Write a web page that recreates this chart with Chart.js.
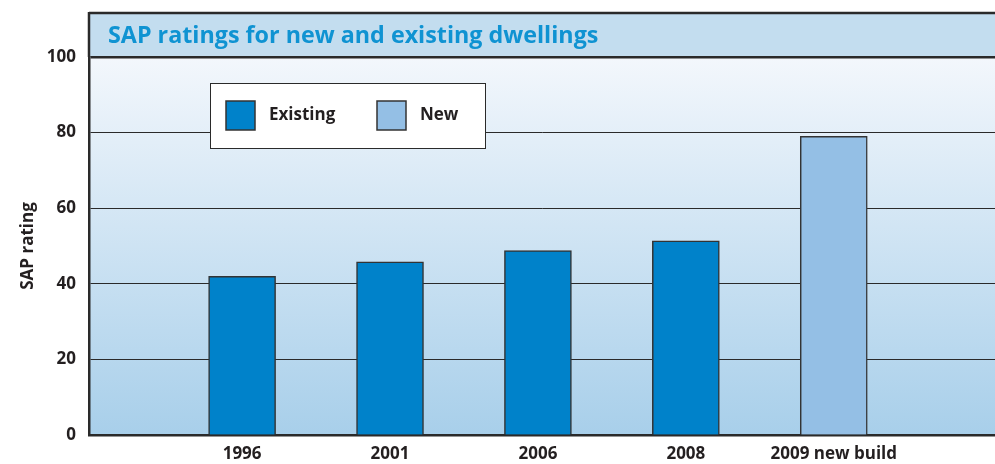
<!DOCTYPE html>
<html>
<head>
<meta charset="utf-8">
<script src="https://cdn.jsdelivr.net/npm/chart.js@4"></script>
<style>
  html, body { margin: 0; padding: 0; background: #fff; }
  #wrap { width: 995px; height: 464px; }
</style>
</head>
<body>
<div id="wrap"><canvas id="sapChart"></canvas></div>
<script>
// Chart data
const categories = ['1996', '2001', '2006', '2008', '2009 new build'];
const existingValues = [42, 45.8, 48.8, 51.4, null];
const newValues = [null, null, null, null, 79];
const yTicks = [0, 20, 40, 60, 80, 100];

const chartTitle = 'SAP ratings for new and existing dwellings';
const textColor = '#231f20';
const fontFamily = '"Open Sans", "DejaVu Sans", sans-serif';

// bars sit on a linear x axis: category i is at x = i + 1
function toPoints(values) {
  return values
    .map((v, i) => (v === null ? null : { x: i + 1, y: v }))
    .filter((p) => p !== null);
}

// background, title band and frame
const framePlugin = {
  id: 'frame',
  beforeDraw(chart) {
    const { ctx, chartArea } = chart;
    const { left, top, right, bottom } = chartArea;
    ctx.save();
    const grad = ctx.createLinearGradient(0, top, 0, bottom);
    grad.addColorStop(0, '#f3f7fc');
    grad.addColorStop(1, '#a8cfea');
    ctx.fillStyle = grad;
    ctx.fillRect(left, top, right - left, bottom - top);

    // title band
    ctx.fillStyle = '#c3ddef';
    ctx.fillRect(left, 13, right - left, top - 13);
    ctx.strokeStyle = '#2a2a2a';
    ctx.lineWidth = 2.5;
    ctx.beginPath();
    ctx.moveTo(left, 13);
    ctx.lineTo(right, 13);
    ctx.moveTo(left, 12);
    ctx.lineTo(left, top);
    ctx.stroke();

    ctx.fillStyle = '#0f93d2';
    ctx.font = 'bold 23.3px ' + fontFamily;
    ctx.textBaseline = 'middle';
    ctx.textAlign = 'left';
    ctx.fillText(chartTitle, left + 19, 36);
    ctx.restore();
  }
};

// boxed legend floating inside the plot
const boxLegendPlugin = {
  id: 'boxLegend',
  afterDatasetsDraw(chart) {
    const { ctx } = chart;
    ctx.save();
    ctx.fillStyle = '#ffffff';
    ctx.fillRect(210, 83, 275, 65);
    ctx.strokeStyle = '#2a2a2a';
    ctx.lineWidth = 1;
    ctx.strokeRect(210.5, 83.5, 275, 65);

    const xs = [226, 377];
    ctx.font = 'bold 17px ' + fontFamily;
    ctx.textBaseline = 'middle';
    chart.data.datasets.forEach((ds, i) => {
      ctx.fillStyle = ds.backgroundColor;
      ctx.fillRect(xs[i], 101, 29, 29);
      ctx.strokeStyle = '#333';
      ctx.lineWidth = 1.5;
      ctx.strokeRect(xs[i], 101, 29, 29);
      ctx.fillStyle = textColor;
      ctx.fillText(ds.label, xs[i] + 43, 115);
    });
    ctx.restore();
  }
};

const ctx = document.getElementById('sapChart').getContext('2d');
const sapChart = new Chart(ctx, {
  type: 'bar',
  data: {
    datasets: [{
      label: 'Existing',
      data: toPoints(existingValues),
      backgroundColor: '#0082ca',
      borderColor: '#333333',
      borderWidth: 1.5,
      grouped: false,
      barThickness: 67
    }, {
      label: 'New',
      data: toPoints(newValues),
      backgroundColor: '#94bfe5',
      borderColor: '#333333',
      borderWidth: 1.5,
      grouped: false,
      barThickness: 67
    }]
  },
  options: {
    responsive: true,
    maintainAspectRatio: false,
    animation: false,
    layout: { padding: { top: 57, left: 18, right: 0, bottom: 0 } },
    plugins: {
      legend: { display: false },
      tooltip: { enabled: false }
    },
    scales: {
      x: {
        type: 'linear',
        offset: false,
        min: -0.035,
        max: 6.09,
        afterBuildTicks: (axis) => {
          axis.ticks = categories.map((c, i) => ({ value: i + 1 }));
        },
        afterFit: (axis) => { axis.height = 29; },
        grid: { display: false, drawTicks: false },
        border: { display: true, color: '#2a2a2a', width: 2.5 },
        ticks: {
          padding: 9,
          color: textColor,
          font: { family: fontFamily, size: 17, weight: 'bold' },
          autoSkip: false,
          maxRotation: 0,
          callback: (value) => categories[value - 1] || ''
        }
      },
      y: {
        min: 0,
        max: 100,
        afterBuildTicks: (axis) => {
          axis.ticks = yTicks.map((v) => ({ value: v }));
        },
        afterFit: (axis) => { axis.width = 71; },
        grid: {
          drawTicks: false,
          color: '#2a2a2a',
          lineWidth: (c) => (c.tick && c.tick.value === 100 ? 2.5 : 1)
        },
        border: { display: true, color: '#2a2a2a', width: 2.5 },
        ticks: {
          padding: 13,
          color: textColor,
          font: { family: fontFamily, size: 17, weight: 'bold' }
        },
        title: {
          display: true,
          text: 'SAP rating',
          color: textColor,
          font: { family: fontFamily, size: 17, weight: 'bold' },
          padding: { top: 0, bottom: 0 }
        }
      }
    }
  },
  plugins: [framePlugin, boxLegendPlugin]
});
</script>
</body>
</html>
